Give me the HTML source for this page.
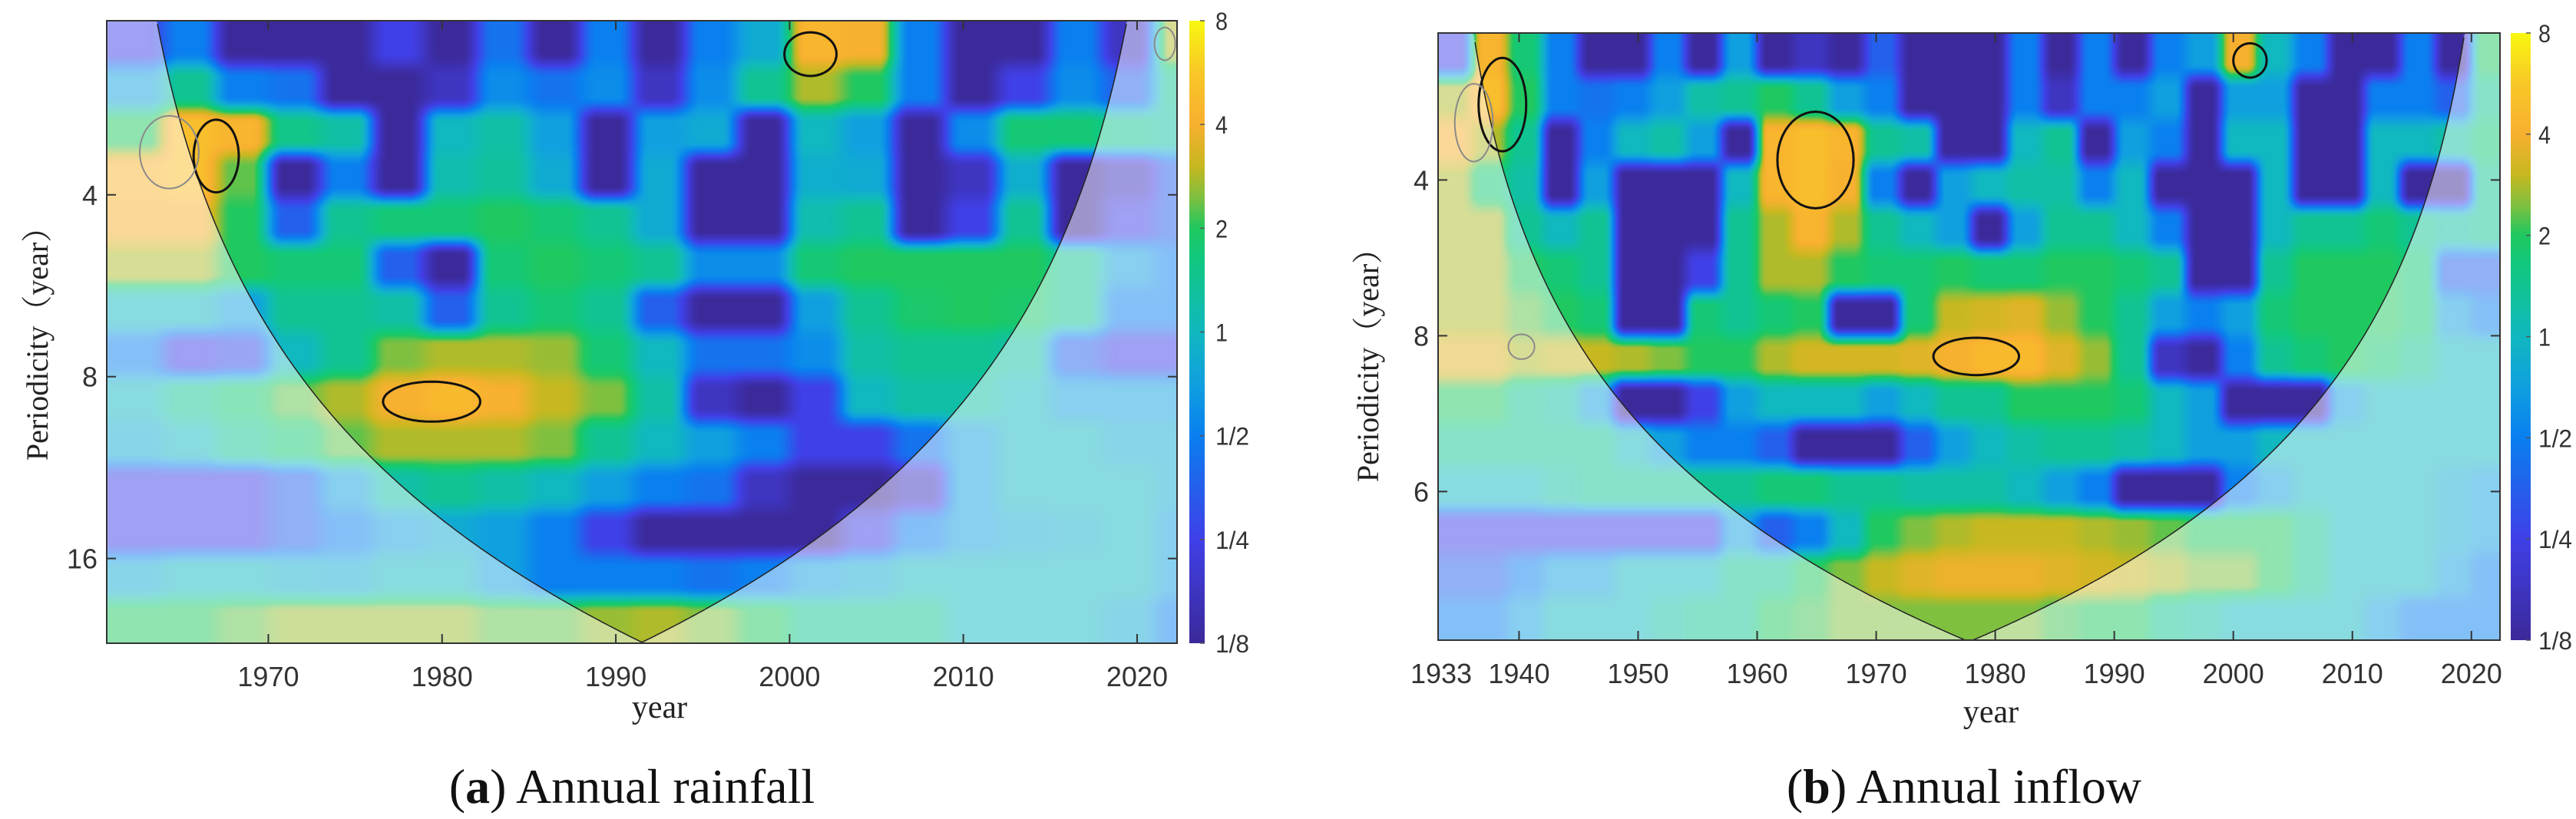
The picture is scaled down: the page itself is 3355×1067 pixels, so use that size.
<!DOCTYPE html>
<html><head><meta charset="utf-8">
<style>
html,body{margin:0;padding:0;background:#fff;}
#root{position:relative;width:3355px;height:1067px;overflow:hidden;background:#fff;}
canvas{position:absolute;}
svg{position:absolute;left:0;top:0;}
</style></head>
<body>
<div id="root">
<canvas id="cvA"></canvas>
<canvas id="cvB"></canvas>
<canvas id="cbA"></canvas>
<canvas id="cbB"></canvas>
<svg id="ov" width="3355" height="1067"></svg>
</div>
<script>
// ---------- data: log2 wavelet power, rows = period bands (short -> long), cols = 3-year bins ----------
const rainfallStartYear = 1961;
const rainfallPower = [
[-2,-1,-3,-3,-3,-2,-3,-1.2,-3,-1,-3,-1,-0.3,2.1,2,-1,-3,-3,-1,-2.5,1.5],
[-0.5,0.5,-1,-1.2,-3,-3,-2.5,-0.8,-1.2,-0.8,-2.5,-0.8,0.5,1.5,1,-1,-3,-2,-0.8,-1.5,0.5],
[1,2.3,2.1,0.6,0.3,-3,0,0.3,-0.5,-3,-0.5,-0.3,-3,0,-0.5,-3,-0.8,0.8,0.8,0.5,0.3],
[2.1,2.3,1.2,-3,-1,-3,0.2,0.4,-0.3,-3,-0.3,-3,-3,-0.2,-0.3,-3,-2.5,-0.2,-3,-2.5,-1.5],
[2,2,1,-1.5,0.5,0.8,0.8,1,0.8,0.5,-0.3,-3,-3,0.2,0.5,-3,-2,0.5,-3,-2,-1.5],
[1.5,1.5,1,0.8,0.8,-1.5,-3,0.8,1,0.8,0.5,-0.8,-0.8,0.8,1,1,1,1,0.5,-0.5,-1],
[0,0,-0.5,0.5,0.5,0.3,-1.5,0.5,0.8,0.5,-1.5,-3,-3,-0.5,0.5,0.9,1,0.9,0.5,-1,-1],
[-1,-2,-1.8,0,0.5,1.3,1.5,1.5,1.4,0.8,0,-1.2,-1.2,-0.8,0.3,0.5,0.5,0.3,-1.5,-2,-2],
[0,0.5,0.8,1.2,1.5,2,2.2,2,1.6,1.3,0.3,-2.5,-3,-2,0,0.3,0.3,0,-0.5,-0.5,-0.5],
[-0.3,0,0.5,0.8,1.2,1.5,1.5,1.5,1.3,0.5,0,-0.5,-1,-2,-2,-1.2,-0.5,0,0,-0.3,-0.3],
[-2,-2,-2,-1.5,-0.5,0.3,0.5,0.3,0,-0.5,-1,-1.2,-2.5,-3,-3,-2.5,-0.5,0,0,0,-0.3],
[-2,-2,-2,-1.5,-1,-0.5,-0.3,-0.5,-1,-2,-3,-3,-3,-3,-2,-1,-0.5,-0.3,-0.2,0,-0.5],
[-0.3,0,0,-0.2,-0.3,0,0,-0.5,-1,-1,-1,-1.2,-1,-0.5,-0.3,0,0,0,0,0,-0.5],
[1,1,1.2,1.4,1.4,1.4,1.4,1.2,1.2,1.4,1.5,1.3,1,0.5,0.5,0.5,0,0,0,-0.3,-1]
];
const inflowStartYear = 1933;
const inflowPower = [
[-2,2.1,0.8,-1,-3,-3,-1,-3,-0.5,-3,-2.5,-3,-1.5,-3,-3,-3,-1,-3,-1,-3,-1,-0.5,2,0,-1,-3,-3,-1,-3,1],
[1.5,2.3,1,-1,-1.2,-1,-0.5,0.3,0.5,1,0.5,-0.5,-1,-3,-3,-3,-1,-2.5,-1,-1,-0.5,-3,-0.5,-0.5,-3,-3,-1,-1,-1.5,0.5],
[2,1.5,0.5,-3,-1,0,0.3,-0.5,-3,2.1,2.3,2.1,0.5,0.3,-3,-3,0,0.5,-3,-0.5,-1,-3,0,0,-3,-3,0,0,0.3,0.8],
[1.5,0.8,0.3,-3,-0.5,-3,-3,-3,0,2.1,2.3,2,-1,-3,-0.5,0,0.3,0.3,-1,0,-3,-3,-3,0,-3,-3,0,-3,-3,0.5],
[1.5,1.5,0.5,0,0.5,-3,-3,-3,0.5,1.5,2.1,1.5,0.5,0,-0.5,-3,-0.5,0.5,0.5,0,-1,-3,-3,0,0.5,0.5,0.8,0.5,0.3,0.5],
[1.5,1.5,1,0.8,0.5,-3,-3,-2,0.5,1.5,1.5,1,0.8,0.8,1,0.8,0.8,1,1,0.8,0.5,-3,-3,0.5,1,1,1,0.8,-1.5,-1.5],
[1.5,1.5,1.2,1,0.8,-3,-3,0.8,0.5,0.8,1,-3,-3,0.8,1.6,1.7,1.8,1.4,1,0.5,-0.5,-1,-0.5,0.8,1,1,1,0.8,-0.5,-1],
[1.8,1.8,1.5,1.6,1.6,1.5,1.3,1,1,1.5,1.7,1.7,1.7,1.8,2,2.2,2.2,1.8,1.4,0.5,-2.5,-3,-1,0.5,0.8,1,0.8,0.5,0,0],
[1,1,0.5,0.3,-0.5,-3,-3,-2,-0.5,0,0,0,-0.5,0,0.5,0.5,1,1,1,0.8,0,-0.5,-3,-3,-3,-0.5,0,0,0,0],
[0.5,0.5,0.5,0.5,0.5,0,-0.5,-1,-1,-1.5,-3,-3,-3,-1.5,-0.5,0,0.3,0.5,0.5,0.3,0,-0.5,-0.5,0,0,0,0,0,0,0],
[0,0,0,0.3,0.5,0.5,0.5,0.5,0.5,0.8,0.8,0.5,0.5,0.3,0.3,0.3,0,-0.5,-1,-3,-3,-3,-1,-0.5,0,0,0,0,-0.3,-0.5],
[-2,-2,-2,-2,-2,-2,-2,-2,-0.5,-1.5,-1,0,1,1.3,1.5,1.6,1.6,1.6,1.5,1.4,1.2,1,1,1,0.5,0,0,0,-0.3,-0.5],
[-1.5,-1.5,-1,-0.5,-0.5,0,0,0,0.5,0.5,1,1.3,1.6,1.8,1.9,1.9,1.9,1.8,1.7,1.6,1.5,1.3,1.3,1,0.5,0,0,0,-0.5,-1],
[-1,-1,-0.5,0,0,0,0.3,0.5,0.5,1,1.1,1.3,1.3,1.3,1.3,1.3,1.3,1.1,1,1,0.5,0.3,0,0,0,0,-0.5,-1,-1,-1]
];
// significance contours: [centerYear, centerPeriod, halfWidthYears, halfHeightOctaves, isBlack]
const rainfallContours = [[1967,3.45,1.3,0.2,1],[1964.3,3.4,1.7,0.2,0],[2001.2,2.34,1.5,0.12,1],[1979.4,8.8,2.8,0.11,1],[2021.6,2.25,0.6,0.09,0]];
const inflowContours = [[1938.6,2.86,2,0.3,1],[1936.2,3.1,1.6,0.25,0],[1964.9,3.66,3.2,0.31,1],[2001.4,2.35,1.4,0.11,1],[1978.4,8.77,3.6,0.12,1],[1940.2,8.4,1.1,0.08,0]];
const rainfallYearTicks = [1970,1980,1990,2000,2010,2020];
const inflowYearTicks = [1940,1950,1960,1970,1980,1990,2000,2010,2020];
const periodTicks = [4,8,16];
const colorbarTicks = [3,2,1,0,-1,-2,-3];
const colorbarLabels = ["8","4","2","1","1/2","1/4","1/8"];

// ---------- colormap ----------
const stops=[[-3,[60,42,154]],[-2,[64,64,232]],[-1,[10,128,240]],[-0.5,[16,160,224]],[0,[16,184,192]],[0.7,[16,200,128]],[1,[32,200,96]],[1.3,[128,192,64]],[1.6,[200,184,32]],[2,[248,176,48]],[2.5,[248,200,40]],[3,[248,248,16]]];
function cmap(v){
  if(v<=stops[0][0])return stops[0][1];
  for(let i=1;i<stops.length;i++){ if(v<=stops[i][0]){const a=stops[i-1],b=stops[i];const t=(v-a[0])/(b[0]-a[0]);return [0,1,2].map(k=>a[1][k]+(b[1][k]-a[1][k])*t);} }
  return stops[stops.length-1][1];
}
function sharp(t){let u=(t-0.2)/0.6;u=Math.max(0,Math.min(1,u));return u*u*(3-2*u);}
const NS="http://www.w3.org/2000/svg";
const ov=document.getElementById('ov');
function mk(tag,attrs,parent){const e=document.createElementNS(NS,tag);for(const k in attrs)e.setAttribute(k,attrs[k]);(parent||ov).appendChild(e);return e;}

function panel(cfg){
  const W=cfg.right-cfg.left,H=cfg.bottom-cfg.top;
  const lpT=Math.log2(cfg.pTop),lpB=Math.log2(cfg.pBot);
  const xS=y=>cfg.left+(y-cfg.yr0)/(cfg.yr1-cfg.yr0)*W;
  const yS=p=>cfg.top+(Math.log2(p)-lpT)/(lpB-lpT)*H;
  const yL=lp=>cfg.top+(lp-lpT)/(lpB-lpT)*H;
  const coi=t=>cfg.c*Math.min(t-cfg.yr0,cfg.yr1-t);
  const data=cfg.data,nr=data.length,nc=data[0].length;
  const cv=document.getElementById(cfg.canvas);
  cv.width=W;cv.height=H;cv.style.left=cfg.left+'px';cv.style.top=cfg.top+'px';
  const ctx=cv.getContext('2d');const img=ctx.createImageData(W,H);
  for(let px=0;px<W;px++){
    const yr=cfg.yr0+(px+0.5)/W*(cfg.yr1-cfg.yr0);
    let fc=(yr-cfg.colStart)/3-0.5; fc=Math.max(0,Math.min(nc-1,fc));
    const c0=Math.floor(fc),c1=Math.min(nc-1,c0+1),tc=sharp(fc-c0);
    const cl=Math.log2(Math.max(0.01,coi(yr)));
    for(let py=0;py<H;py++){
      const lp=lpT+(py+0.5)/H*(lpB-lpT);
      let fr=(py+0.5)/H*nr-0.5; fr=Math.max(0,Math.min(nr-1,fr));
      const r0=Math.floor(fr),r1=Math.min(nr-1,r0+1),tr=sharp(fr-r0);
      const v=(data[r0][c0]*(1-tc)+data[r0][c1]*tc)*(1-tr)+(data[r1][c0]*(1-tc)+data[r1][c1]*tc)*tr;
      let col=cmap(v);
      if(lp>cl) col=col.map(x=>x*0.5+255*0.5);
      const i=(py*W+px)*4;img.data[i]=col[0];img.data[i+1]=col[1];img.data[i+2]=col[2];img.data[i+3]=255;
    }
  }
  ctx.putImageData(img,0,0);
  const g=mk('g',{});
  
  
  let d='';
  for(let px=0;px<=W;px+=2){const yr=cfg.yr0+px/W*(cfg.yr1-cfg.yr0);const p=coi(yr);if(p<cfg.pTop||p>cfg.pBot*1.001)continue;d+=(d?'L':'M')+(cfg.left+px)+','+yS(p).toFixed(1);}
  const coiPath=mk('path',{d:d,fill:'none',stroke:'#222','stroke-width':1.5},g);
  
  
  cfg.contours.forEach(ct=>{
    let s='';
    for(let k=0;k<=48;k++){const th=k/48*2*Math.PI;const yr=ct[0]+ct[2]*Math.cos(th);const lp=Math.log2(ct[1])+ct[3]*Math.sin(th);s+=(k?'L':'M')+xS(yr).toFixed(1)+','+yL(lp).toFixed(1);}
    const e=mk('path',{d:s+'Z',fill:'none',stroke:ct[4]?'#111':'#8a8a8a','stroke-width':ct[4]?3:2},g);
    
    
  });
  mk('rect',{x:cfg.left,y:cfg.top,width:W,height:H,fill:'none',stroke:'#333','stroke-width':2},g);
  cfg.xticks.forEach(t=>{
    const x=xS(t);
    mk('line',{x1:x,x2:x,y1:cfg.bottom,y2:cfg.bottom-12,stroke:'#333','stroke-width':2},g);
    mk('line',{x1:x,x2:x,y1:cfg.top,y2:cfg.top+12,stroke:'#333','stroke-width':2},g);
    const tx=mk('text',{x:x,y:cfg.bottom+56,'text-anchor':'middle','font-family':'Liberation Sans, sans-serif','font-size':36,fill:'#333'},g);
    tx.textContent=t;
    
    
  });
  if(cfg.extraX){const tx=mk('text',{x:cfg.left+4,y:cfg.bottom+56,'text-anchor':'middle','font-family':'Liberation Sans, sans-serif','font-size':36,fill:'#333'},g);tx.textContent=cfg.extraX;
    
    }
  periodTicks.forEach((p,i)=>{
    const y=yS(p);
    mk('line',{x1:cfg.left,x2:cfg.left+12,y1:y,y2:y,stroke:'#333','stroke-width':2},g);
    mk('line',{x1:cfg.right,x2:cfg.right-12,y1:y,y2:y,stroke:'#333','stroke-width':2},g);
    const tx=mk('text',{x:cfg.left-12,y:y+13,'text-anchor':'end','font-family':'Liberation Sans, sans-serif','font-size':36,fill:'#333'},g);
    tx.textContent=cfg.ylabels[i];
    
    
  });
  const yl=mk('text',{x:0,y:0,transform:`translate(${cfg.ylabX},${cfg.ylabY}) rotate(-90)`,'text-anchor':'middle','font-family':'Liberation Serif, Noto Serif CJK SC, serif','font-size':40,fill:'#222'},g);
  yl.textContent='Periodicity（year）';
  
  
  const xl=mk('text',{x:cfg.xlabX,y:cfg.xlabY,'text-anchor':'middle','font-family':'Liberation Serif, serif','font-size':42,fill:'#222'},g);
  xl.textContent='year';
  
  
  const cap=mk('text',{x:cfg.capX,y:1046,'text-anchor':'middle','font-family':'Liberation Serif, serif','font-size':64,fill:'#111'},g);
  cap.innerHTML='(<tspan font-weight="bold">'+cfg.capL+'</tspan>) '+cfg.cap;
  
  
  const cb=document.getElementById(cfg.cbCanvas);const cw=cfg.cbR-cfg.cbL,ch=cfg.cbB-cfg.cbT;
  cb.width=cw;cb.height=ch;cb.style.left=cfg.cbL+'px';cb.style.top=cfg.cbT+'px';
  const c2=cb.getContext('2d');
  for(let py=0;py<ch;py++){const v=3-6*(py+0.5)/ch;const c=cmap(v);c2.fillStyle=`rgb(${c[0]|0},${c[1]|0},${c[2]|0})`;c2.fillRect(0,py,cw,1);}
  colorbarTicks.forEach((v,i)=>{
    const y=cfg.cbT+(3-v)/6*ch;
    mk('line',{x1:cfg.cbR-6,x2:cfg.cbR,y1:y,y2:y,stroke:'#555','stroke-width':1.5},g);
    const tx=mk('text',{x:cfg.cbR+cfg.cbGap,y:y+12,'font-family':'Liberation Sans, sans-serif','font-size':32,fill:'#333',textLength:colorbarLabels[i].length>1?44:16,lengthAdjust:'spacingAndGlyphs'},g);
    tx.textContent=colorbarLabels[i];
    
    
  });
}
panel({name:'rainfall',canvas:'cvA',cbCanvas:'cbA',data:rainfallPower,colStart:rainfallStartYear,contours:rainfallContours,
  left:139,top:27,right:1533,bottom:838,yr0:1960.7,yr1:2022.3,pTop:2.06,pBot:22.1,c:0.715,
  xticks:rainfallYearTicks,ylabels:['4','8','16'],ylabX:62,ylabY:438,xlabX:859,xlabY:935,capX:823,capL:'a',cap:'Annual rainfall',
  cbL:1549,cbR:1569,cbT:27,cbB:838,cbGap:14});
panel({name:'inflow',canvas:'cvB',cbCanvas:'cbB',data:inflowPower,colStart:inflowStartYear,contours:inflowContours,
  left:1873,top:43,right:3256,bottom:834,yr0:1933.2,yr1:2022.4,pTop:2.08,pBot:31,c:0.70,
  xticks:inflowYearTicks,extraX:'1933',ylabels:['4','8','6'],ylabX:1795,ylabY:466,xlabX:2593,xlabY:941,capX:2558,capL:'b',cap:'Annual inflow',
  cbL:3270,cbR:3296,cbT:43,cbB:834,cbGap:10});
</script>
</body></html>
